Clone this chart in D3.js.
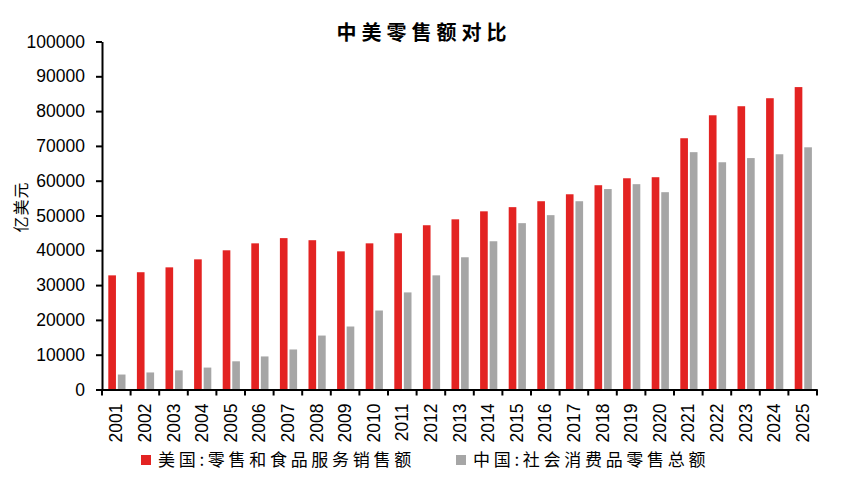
<html>
<head>
<meta charset="utf-8">
<title>中美零售额对比</title>
<script src="https://d3js.org/d3.v7.min.js"></script>
<style>
body { margin: 0; background: #fff; }
.axis text { font-family: "Liberation Sans", Arial, sans-serif; font-size: 17.5px; fill: #000; }
.axis path, .axis line { stroke: #000; stroke-width: 2; }
.cjk { font-family: "Noto Sans CJK SC", sans-serif; fill: #000; }
</style>
</head>
<body>
<script>
var years = ["2001","2002","2003","2004","2005","2006","2007","2008","2009","2010","2011","2012","2013",
  "2014","2015","2016","2017","2018","2019","2020","2021","2022","2023","2024","2025"];

// 美国:零售和食品服务销售额 (亿美元)
var usRetail = [32800, 33700, 35100, 37400, 40000, 42000, 43500, 42900, 39700, 42000, 44900, 47200, 48900,
  51200, 52400, 54100, 56100, 58700, 60700, 61000, 72200, 78800, 81400, 83700, 86900];

// 中国:社会消费品零售总额 (亿美元)
var cnRetail = [4300, 4900, 5500, 6300, 8100, 9500, 11500, 15500, 18100, 22700, 27900, 32800, 38000,
  42600, 47800, 50100, 54100, 57600, 59000, 56700, 68200, 65300, 66500, 67600, 69600];

var seriesNames = ["美国:零售和食品服务销售额", "中国:社会消费品零售总额"];
var seriesColors = ["#e32322", "#a6a6a6"];
var yTicks = [0, 10000, 20000, 30000, 40000, 50000, 60000, 70000, 80000, 90000, 100000];

var width = 843, height = 489;
var margin = { left: 102, right: 26, top: 41.5, bottom: 100 };

var svg = d3.select("body").append("svg")
  .attr("width", width)
  .attr("height", height);

var x0 = d3.scaleBand()
  .domain(years)
  .range([margin.left, width - margin.right])
  .padding(0);

var x1 = d3.scaleBand()
  .domain([0, 1])
  .range([6.3, 23.5])
  .paddingInner(0.2);

var y = d3.scaleLinear()
  .domain([0, 100000])
  .range([height - margin.bottom + 0.5, margin.top]);

// bars, one group per year
var groups = svg.selectAll("g.year")
  .data(years)
  .enter()
  .append("g")
    .attr("class", "year")
    .attr("transform", function(d) { return "translate(" + x0(d) + ",0)"; });

groups.selectAll("rect")
  .data(function(d, i) { return [usRetail[i], cnRetail[i]]; })
  .enter()
  .append("rect")
    .attr("x", function(d, j) { return x1(j); })
    .attr("width", x1.bandwidth())
    .attr("y", function(d) { return y(d); })
    .attr("height", function(d) { return y(0) - y(d); })
    .attr("fill", function(d, j) { return seriesColors[j]; });

// y axis
svg.append("g")
  .attr("class", "axis")
  .attr("transform", "translate(" + margin.left + ",0)")
  .call(d3.axisLeft(y).tickValues(yTicks).tickFormat(d3.format("d")).tickSize(6).tickSizeOuter(0).tickPadding(11));

// x axis
var xAxis = svg.append("g")
  .attr("class", "axis")
  .attr("transform", "translate(0," + y(0) + ")")
  .call(d3.axisBottom(x0).tickSize(0).tickSizeOuter(0));

xAxis.selectAll("text")
  .attr("transform", "rotate(-90)")
  .attr("text-anchor", "end")
  .attr("x", -14)
  .attr("y", 0)
  .attr("dy", "0.35em");

// ticks between categories
xAxis.selectAll("line.sep")
  .data(years.concat(["end"]))
  .enter()
  .append("line")
    .attr("class", "sep")
    .attr("x1", function(d, i) { return margin.left + i * x0.step(); })
    .attr("x2", function(d, i) { return margin.left + i * x0.step(); })
    .attr("y1", 0)
    .attr("y2", 6);

// title
svg.append("text")
  .attr("class", "cjk")
  .attr("x", 424)
  .attr("y", 40)
  .attr("text-anchor", "middle")
  .attr("font-size", "20px")
  .attr("font-weight", "bold")
  .attr("letter-spacing", "5px")
  .text("中美零售额对比");

// y label
svg.append("text")
  .attr("class", "cjk")
  .attr("transform", "translate(27,207) rotate(-90)")
  .attr("text-anchor", "middle")
  .attr("font-size", "16px")
  .attr("letter-spacing", "1px")
  .text("亿美元");

// legend
var legendX = [141, 456];
var legend = svg.selectAll("g.legend")
  .data(seriesNames)
  .enter()
  .append("g")
    .attr("class", "legend")
    .attr("transform", function(d, i) { return "translate(" + legendX[i] + ",455)"; });

legend.append("rect")
  .attr("width", 10)
  .attr("height", 10)
  .attr("fill", function(d, i) { return seriesColors[i]; });

legend.append("text")
  .attr("class", "cjk")
  .attr("x", 17)
  .attr("y", 5)
  .attr("dy", "0.35em")
  .attr("font-size", "17px")
  .attr("letter-spacing", "3.7px")
  .text(function(d) { return d; });
</script>
</body>
</html>
